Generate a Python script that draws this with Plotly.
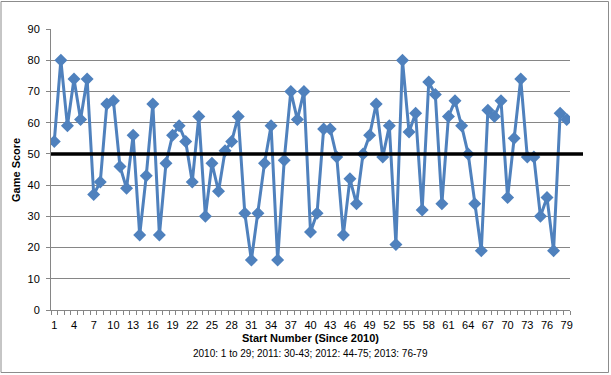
import plotly.graph_objects as go

start_numbers = list(range(1, 80))
game_scores = [54, 80, 59, 74, 61, 74, 37, 41, 66, 67,
               46, 39, 56, 24, 43, 66, 24, 47, 56, 59,
               54, 41, 62, 30, 47, 38, 51, 54, 62, 31,
               16, 31, 47, 59, 16, 48, 70, 61, 70, 25,
               31, 58, 58, 49, 24, 42, 34, 50, 56, 66,
               49, 59, 21, 80, 57, 63, 32, 73, 69, 34,
               62, 67, 59, 50, 34, 19, 64, 62, 67, 36,
               55, 74, 49, 49, 30, 36, 19, 63, 61]
threshold = 50
x_tick_labels = list(range(1, 80, 3))
y_tick_labels = list(range(0, 91, 10))

W, H = 611, 375
L, R, T, B = 51, 41, 29, 65
pw, ph = W - L - R, H - T - B

def px_x(px):
    return (px - L) / pw

def px_y(py):
    return (H - B - py) / ph

fig = go.Figure()
fig.add_trace(go.Scatter(
    x=start_numbers, y=game_scores, mode="lines+markers",
    line=dict(color="#4F81BD", width=3),
    marker=dict(symbol="diamond", size=10, color="#4F81BD"),
    showlegend=False, hoverinfo="x+y",
))

fig.add_shape(type="line", xref="paper", yref="y",
              x0=0, x1=px_x(583), y0=threshold, y1=threshold,
              line=dict(color="black", width=3.5), layer="above")
fig.add_shape(type="rect", xref="paper", yref="paper",
              x0=px_x(1), x1=px_x(608.5), y0=px_y(372.5), y1=px_y(1.5),
              line=dict(color="#8C8C8C", width=1))

font_family = "Liberation Sans, Arial, sans-serif"

fig.update_layout(
    width=W, height=H,
    margin=dict(l=L, r=R, t=T, b=B),
    paper_bgcolor="white", plot_bgcolor="white",
    font=dict(family=font_family, size=11, color="black"),
    xaxis=dict(
        range=[0.5, 79.5], tickmode="array", tickvals=x_tick_labels,
        ticktext=[str(v) for v in x_tick_labels],
        ticks="", showgrid=False, zeroline=False, automargin=False,
        showline=True, linecolor="#868686", linewidth=1,
        minor=dict(tickmode="linear", tick0=0.5, dtick=1, ticks="outside",
                   ticklen=4, tickcolor="#868686", showgrid=False),
        tickfont=dict(size=11), ticklabelstandoff=5,
    ),
    yaxis=dict(
        range=[0, 90], tickmode="array", tickvals=y_tick_labels,
        ticks="outside", ticklen=4, tickcolor="#868686", automargin=False,
        showgrid=True, gridcolor="#868686", gridwidth=1,
        zeroline=False, showline=True, linecolor="#868686", linewidth=1,
        tickfont=dict(size=11), ticklabelstandoff=4,
    ),
    annotations=[
        dict(text="<b>Game Score</b>", xref="paper", yref="paper",
             x=px_x(16), y=px_y(170), textangle=-90, showarrow=False,
             xanchor="center", yanchor="middle", font=dict(size=11)),
        dict(text="<b>Start Number (Since 2010)</b>", xref="paper", yref="paper",
             x=px_x(310), y=px_y(338), showarrow=False,
             xanchor="center", yanchor="middle", font=dict(size=11)),
        dict(text="2010: 1 to 29; 2011: 30-43; 2012: 44-75; 2013: 76-79",
             xref="paper", yref="paper",
             x=px_x(310), y=px_y(353), showarrow=False,
             xanchor="center", yanchor="middle", font=dict(size=10)),
    ],
)

fig.write_html("out.html", config={"displayModeBar": False},
               post_script="document.body.style.margin='0';")
